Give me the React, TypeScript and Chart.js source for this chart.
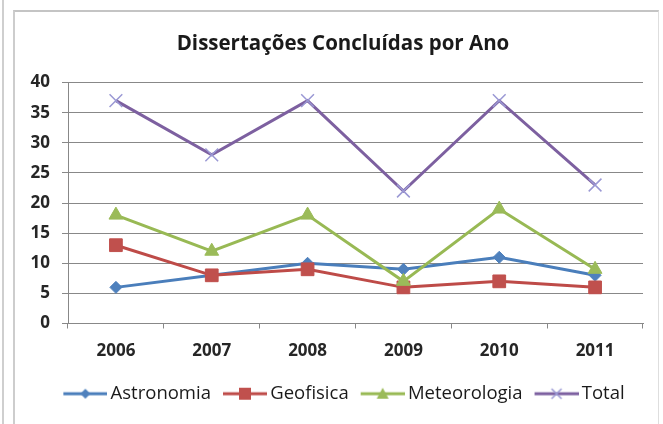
import React, { useEffect, useRef } from 'react';
import { Chart, registerables } from 'chart.js';

Chart.register(...registerables);

const TITLE = 'Dissertações Concluídas por Ano';
const years = ['2006', '2007', '2008', '2009', '2010', '2011'];
const seriesNames = ['Astronomia', 'Geofisica', 'Meteorologia', 'Total'];
const astronomia = [6, 8, 10, 9, 11, 8];
const geofisica = [13, 8, 9, 6, 7, 6];
const meteorologia = [18, 12, 18, 7, 19, 9];
const total = [37, 28, 37, 22, 37, 23];
const Y_MIN = 0;
const Y_MAX = 40;
const Y_STEP = 5;

const lineColors = ['#4A7EBB', '#BE4B48', '#98B954', '#7D60A0'];
const markerColors = ['#4F81BD', '#C0504D', '#9BBB59', '#9A98D4'];
const markerStyles = ['rectRot', 'rect', 'triangle', 'crossRot'];
const markerRadii = [6, 9, 8, 9];

const FONT = '"Open Sans", "DejaVu Sans", sans-serif';

function makeLegendIcon(i: number): HTMLCanvasElement {
  const c = document.createElement('canvas');
  const w = 52;
  const h = 16;
  c.width = w;
  c.height = h;
  const ctx = c.getContext('2d')!;
  const cy = h / 2;
  ctx.strokeStyle = lineColors[i];
  ctx.lineWidth = 3;
  ctx.beginPath();
  ctx.moveTo(8, cy);
  ctx.lineTo(52, cy);
  ctx.stroke();
  const cx = 30;
  ctx.fillStyle = markerColors[i];
  ctx.strokeStyle = markerColors[i];
  if (i === 0) {
    ctx.beginPath();
    ctx.moveTo(cx, cy - 5);
    ctx.lineTo(cx + 5, cy);
    ctx.lineTo(cx, cy + 5);
    ctx.lineTo(cx - 5, cy);
    ctx.closePath();
    ctx.fill();
  } else if (i === 1) {
    ctx.fillRect(cx - 6, cy - 6, 12, 12);
  } else if (i === 2) {
    ctx.beginPath();
    ctx.moveTo(cx, cy - 6);
    ctx.lineTo(cx + 6, cy + 5);
    ctx.lineTo(cx - 6, cy + 5);
    ctx.closePath();
    ctx.fill();
  } else {
    ctx.lineWidth = 1.5;
    ctx.beginPath();
    ctx.moveTo(cx - 5, cy - 5);
    ctx.lineTo(cx + 5, cy + 5);
    ctx.moveTo(cx + 5, cy - 5);
    ctx.lineTo(cx - 5, cy + 5);
    ctx.stroke();
  }
  return c;
}

export default function App() {
  const canvasRef = useRef<HTMLCanvasElement | null>(null);

  useEffect(() => {
    if (!canvasRef.current) return;
    const values = [astronomia, geofisica, meteorologia, total];
    const icons = seriesNames.map((_, i) => makeLegendIcon(i));
    const chart = new Chart(canvasRef.current, {
      type: 'line',
      data: {
        labels: years,
        datasets: seriesNames.map((name, i) => ({
          label: name,
          data: values[i],
          borderColor: lineColors[i],
          backgroundColor: markerColors[i],
          borderWidth: 3,
          tension: 0,
          fill: false,
          pointStyle: markerStyles[i] as any,
          pointRadius: markerRadii[i],
          pointBackgroundColor: markerColors[i],
          pointBorderColor: markerColors[i],
          pointBorderWidth: i === 3 ? 1.5 : 1,
          order: 4 - i,
        })),
      },
      options: {
        animation: false,
        responsive: false,
        maintainAspectRatio: false,
        layout: { padding: { left: 43, right: 20, top: 0, bottom: 11 } },
        plugins: {
          tooltip: { enabled: false },
          title: {
            display: true,
            text: TITLE,
            color: '#1a1a1a',
            font: { family: FONT, size: 20.5, weight: 'bold', lineHeight: 1.2 },
            padding: { top: 32, bottom: 26 },
          },
          legend: {
            display: true,
            position: 'bottom',
            labels: {
              usePointStyle: true,
              pointStyleWidth: 40,
              padding: 10,
              color: '#1a1a1a',
              font: { family: FONT, size: 18.5 },
              generateLabels: () =>
                seriesNames.map((name, i) => ({
                  text: name,
                  pointStyle: icons[i] as any,
                  fillStyle: 'rgba(0,0,0,0)',
                  strokeStyle: 'rgba(0,0,0,0)',
                  lineWidth: 0,
                  hidden: false,
                  datasetIndex: i,
                  fontColor: '#1a1a1a',
                })),
            },
          },
        },
        scales: {
          x: {
            type: 'category',
            offset: true,
            afterFit: (s: any) => {
              s.height = 51;
            },
            grid: {
              display: true,
              drawOnChartArea: false,
              drawTicks: true,
              tickLength: 5,
              color: '#888888',
              offset: true,
            },
            border: { display: true, color: '#888888', width: 1 },
            ticks: {
              color: '#262626',
              padding: 12,
              font: { family: FONT, size: 17, weight: 'bold' },
              maxRotation: 0,
            },
          },
          y: {
            min: Y_MIN,
            max: Y_MAX,
            afterFit: (s: any) => {
              s.width = 25;
              s._computeLabelArea = () => undefined;
            },
            grid: {
              color: '#888888',
              lineWidth: 1,
              drawTicks: true,
              tickLength: 6,
            },
            border: { display: true, color: '#888888', width: 1 },
            ticks: {
              stepSize: Y_STEP,
              color: '#262626',
              padding: 12,
              font: { family: FONT, size: 17, weight: 'bold' },
            },
          },
        },
      },
    });
    return () => chart.destroy();
  }, []);

  return (
    <div style={{ position: 'absolute', left: 0, top: 0, width: 663, height: 424, background: '#ffffff', overflow: 'hidden' }}>
      <div style={{ position: 'absolute', left: 2, top: 0, width: 2, height: 424, background: '#cfcfcf' }} />
      <div
        style={{
          position: 'absolute',
          left: 13,
          top: 10,
          width: 646,
          height: 430,
          borderTop: '2px solid #c4c4c4',
          borderLeft: '2px solid #cdcdcd',
          borderRight: '1px solid #dedede',
          boxSizing: 'border-box',
        }}
      />
      <canvas ref={canvasRef} width={663} height={424} style={{ position: 'absolute', left: 0, top: 0, width: 663, height: 424 }} />
    </div>
  );
}
